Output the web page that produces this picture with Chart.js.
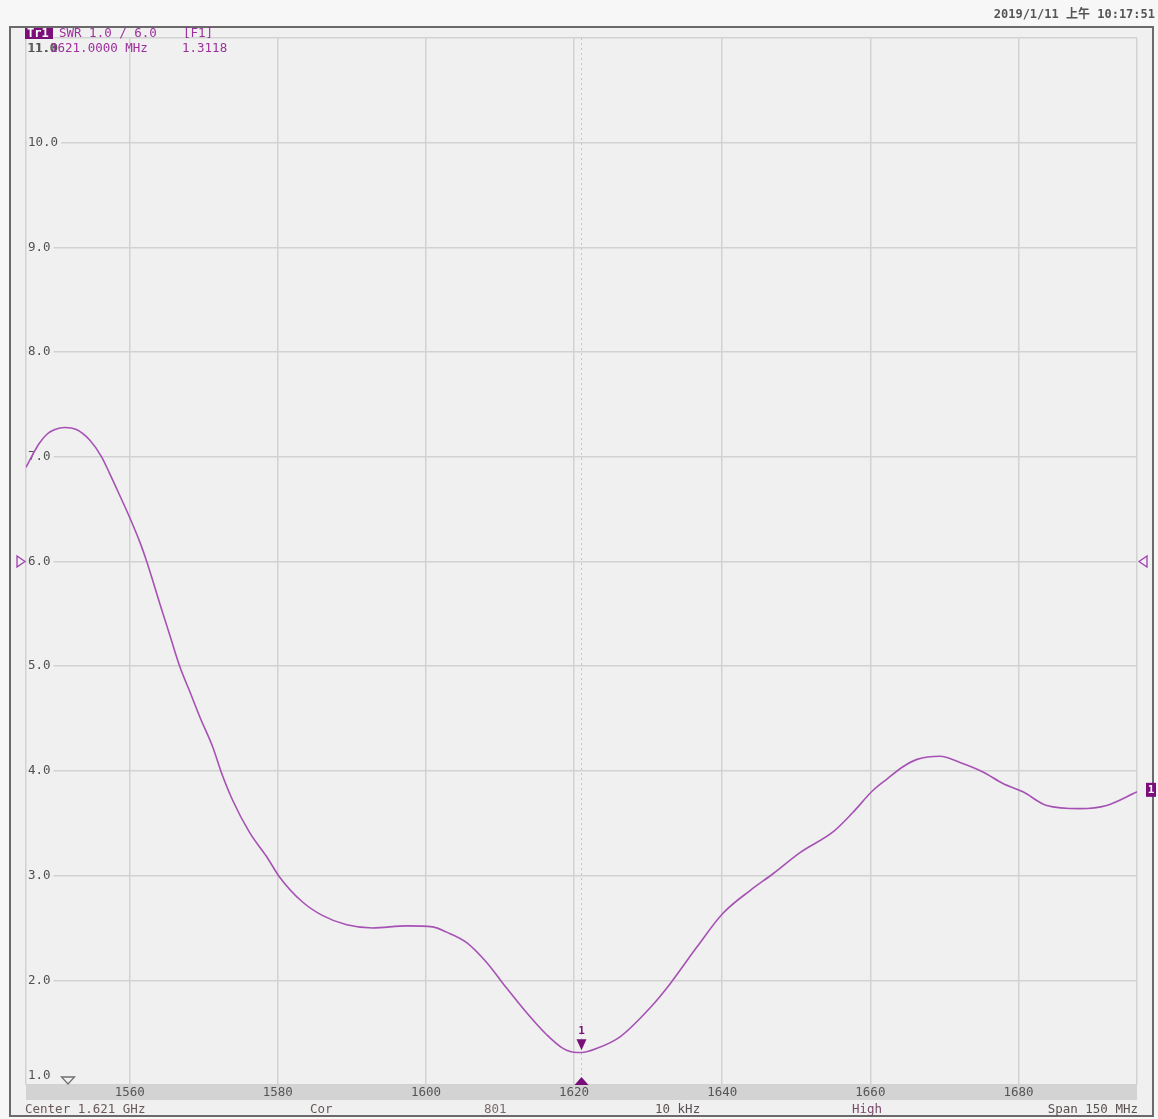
<!DOCTYPE html>
<html>
<head>
<meta charset="utf-8">
<script src="https://cdn.jsdelivr.net/npm/chart.js@4.4.1/dist/chart.umd.min.js"></script>
<style>
  html, body { margin: 0; padding: 0; background: #f7f7f7; }
  #wrap { position: relative; width: 1158px; height: 1119px; }
</style>
</head>
<body>
<div id="wrap"><canvas id="swrChart"></canvas></div>
<script>
// trace (MHz, SWR)
const freqMHz = [1546.0, 1546.9, 1547.8, 1548.9, 1549.9, 1551.2, 1552.8, 1554.6, 1556.2,
    1557.3, 1558.6, 1560.0, 1561.4, 1562.3, 1563.1, 1564.1, 1565.4, 1566.8, 1568.1,
    1569.5, 1571.2, 1572.4, 1573.9, 1576.2, 1578.5, 1580.2, 1583.3, 1586.0, 1589.3,
    1592.8, 1597.4, 1600.9, 1602.8, 1605.5, 1608.2, 1610.4, 1613.6, 1616.3, 1618.5,
    1620.4, 1621.0, 1623.1, 1626.2, 1630.3, 1633.0, 1636.6, 1640.1, 1643.8, 1646.9,
    1650.5, 1655.0, 1657.6, 1660.3, 1662.2, 1664.4, 1666.3, 1669.4, 1672.1, 1675.2,
    1677.9, 1680.6, 1683.8, 1688.3, 1691.9, 1696.0];
const swr = [6.90, 7.02, 7.13, 7.22, 7.26, 7.28, 7.26, 7.16, 7.00,
    6.84, 6.64, 6.42, 6.18, 6.00, 5.82, 5.59, 5.30, 4.99, 4.76,
    4.51, 4.23, 3.98, 3.72, 3.41, 3.18, 2.99, 2.75, 2.62, 2.53,
    2.50, 2.52, 2.51, 2.46, 2.36, 2.17, 1.97, 1.69, 1.48, 1.35,
    1.31, 1.31, 1.35, 1.46, 1.74, 1.97, 2.32, 2.64, 2.86, 3.02,
    3.22, 3.42, 3.60, 3.81, 3.92, 4.04, 4.11, 4.14, 4.08, 3.99,
    3.88, 3.80, 3.67, 3.64, 3.67, 3.80];

const xGrid = [1546, 1560, 1580, 1600, 1620, 1640, 1660, 1680, 1696];
const xTickLabels = [1560, 1580, 1600, 1620, 1640, 1660, 1680];
const yTickLabels = [1, 2, 3, 4, 5, 6, 7, 8, 9, 10, 11];

const markerFreq = 1621.0;
const markerValue = 1.3118;
const refValue = 6.0;

const MONO = '"DejaVu Sans Mono", "Liberation Mono", monospace';
const PURPLE = "#9c2f9c";
const DARKPURPLE = "#7a0f7a";

function tri(ctx, x, y, w, h, dir, fill, stroke) {
    ctx.beginPath();
    if (dir === "down") { ctx.moveTo(x - w / 2, y - h); ctx.lineTo(x + w / 2, y - h); ctx.lineTo(x, y); }
    if (dir === "up") { ctx.moveTo(x - w / 2, y); ctx.lineTo(x + w / 2, y); ctx.lineTo(x, y - h); }
    if (dir === "right") { ctx.moveTo(x - h, y - w / 2); ctx.lineTo(x - h, y + w / 2); ctx.lineTo(x, y); }
    if (dir === "left") { ctx.moveTo(x + h, y - w / 2); ctx.lineTo(x + h, y + w / 2); ctx.lineTo(x, y); }
    ctx.closePath();
    if (fill) { ctx.fillStyle = fill; ctx.fill(); }
    if (stroke) { ctx.strokeStyle = stroke; ctx.lineWidth = 1.3; ctx.stroke(); }
}

const vnaDecor = {
    id: "vnaDecor",
    beforeDraw(chart) {
        const ctx = chart.ctx;
        const a = chart.chartArea;
        ctx.save();
        ctx.fillStyle = "#f7f7f7";
        ctx.fillRect(0, 0, chart.width, chart.height);
        // instrument frame
        ctx.fillStyle = "#f0f0f0";
        ctx.fillRect(10, 27, 1143, 1089);
        ctx.strokeStyle = "#6a6a6a";
        ctx.lineWidth = 2;
        ctx.strokeRect(10, 27, 1143, 1089);
        // grey band with frequency labels
        ctx.fillStyle = "#d3d3d3";
        ctx.fillRect(a.left, a.bottom, a.right - a.left, 15);
        // timestamp
        ctx.font = "bold 12px " + MONO + ', "Noto Sans CJK SC"';
        ctx.fillStyle = "#555";
        ctx.textAlign = "right";
        ctx.textBaseline = "middle";
        ctx.fillText("2019/1/11 上午 10:17:51", 1155, 15);
        // bottom status row
        ctx.font = "12.5px " + MONO;
        ctx.textAlign = "left";
        ctx.fillStyle = "#6a5858";
        ctx.fillText("Center 1.621 GHz", 25, 1110);
        ctx.fillText("Cor", 310, 1110);
        ctx.fillStyle = "#7a6a6a";
        ctx.fillText("801", 484, 1110);
        ctx.fillStyle = "#5a5050";
        ctx.fillText("10 kHz", 655, 1110);
        ctx.fillStyle = "#7a4a6a";
        ctx.fillText("High", 852, 1110);
        ctx.fillStyle = "#5a5050";
        ctx.textAlign = "right";
        ctx.fillText("Span 150 MHz", 1138, 1110);
        ctx.restore();
    },
    beforeDatasetsDraw(chart) {
        const ctx = chart.ctx;
        const a = chart.chartArea;
        const xs = chart.scales.x, ys = chart.scales.y;
        ctx.save();
        // marker stimulus line
        const mx = xs.getPixelForValue(markerFreq);
        ctx.strokeStyle = "#c4c4c4";
        ctx.lineWidth = 1;
        ctx.setLineDash([2, 3]);
        ctx.beginPath();
        ctx.moveTo(mx, a.top);
        ctx.lineTo(mx, a.bottom);
        ctx.stroke();
        ctx.setLineDash([]);
        // y labels inside the grid
        ctx.font = "12.5px " + MONO;
        ctx.textAlign = "left";
        ctx.textBaseline = "middle";
        yTickLabels.forEach(v => {
            let y = ys.getPixelForValue(v);
            if (v === 11) y += 11;
            if (v === 1) y -= 9;
            const txt = v.toFixed(1);
            const w = ctx.measureText(txt).width;
            ctx.fillStyle = "#f0f0f0";
            ctx.fillRect(a.left + 1, y - 6, w + 4, 12);
            ctx.fillStyle = "#505050";
            ctx.fillText(txt, a.left + 2, y);
        });
        // x labels in the band
        ctx.textAlign = "center";
        ctx.fillStyle = "#555";
        xTickLabels.forEach(v => {
            ctx.fillText(String(v), xs.getPixelForValue(v), a.bottom + 8);
        });
        ctx.restore();
    },
    afterDatasetsDraw(chart) {
        const ctx = chart.ctx;
        const a = chart.chartArea;
        const xs = chart.scales.x, ys = chart.scales.y;
        ctx.save();
        const mx = xs.getPixelForValue(markerFreq);
        const my = ys.getPixelForValue(markerValue);
        // marker 1
        tri(ctx, mx, my - 2, 10, 11, "down", DARKPURPLE);
        ctx.font = "bold 11px " + MONO;
        ctx.fillStyle = DARKPURPLE;
        ctx.textAlign = "center";
        ctx.textBaseline = "middle";
        ctx.fillText("1", mx, my - 21);
        tri(ctx, mx, a.bottom, 14, 8, "up", DARKPURPLE);
        // reference level pointers
        const ry = ys.getPixelForValue(refValue);
        tri(ctx, a.left - 1, ry, 11, 8, "right", null, "#a040b0");
        tri(ctx, a.right + 2, ry, 11, 8, "left", null, "#a040b0");
        // trace end label
        const ey = ys.getPixelForValue(swr[swr.length - 1]) - 2;
        ctx.fillStyle = DARKPURPLE;
        ctx.fillRect(a.right + 9, ey - 7, 10, 14);
        ctx.fillStyle = "#fff";
        ctx.font = "bold 11px " + MONO;
        ctx.fillText("1", a.right + 14, ey);
        // bottom-left pointer
        tri(ctx, 68, 1084, 13, 7, "down", null, "#707070");
        // header
        ctx.textAlign = "left";
        ctx.fillStyle = DARKPURPLE;
        ctx.fillRect(25, 28, 28, 11);
        ctx.font = "bold 12px " + MONO;
        ctx.fillStyle = "#fff";
        ctx.fillText("Tr1", 27, 34);
        ctx.font = "12.5px " + MONO;
        ctx.fillStyle = PURPLE;
        ctx.fillText("SWR 1.0 / 6.0", 59, 34);
        ctx.fillText("[F1]", 183, 34);
        ctx.fillStyle = "#555";
        ctx.fillText("11.0", 27, 49);
        ctx.fillStyle = PURPLE;
        ctx.fillText("1621.0000 MHz", 50, 49);
        ctx.fillText("1.3118", 182, 49);
        ctx.restore();
    }
};

const ctx = document.getElementById("swrChart").getContext("2d");
new Chart(ctx, {
    type: "line",
    data: {
        datasets: [{
            data: freqMHz.map((f, i) => ({ x: f, y: swr[i] })),
            borderColor: "#a652b4",
            borderWidth: 1.6,
            pointRadius: 0,
            fill: false,
            cubicInterpolationMode: "monotone"
        }]
    },
    options: {
        responsive: true,
        maintainAspectRatio: false,
        animation: false,
        layout: { padding: { left: 26, right: 21, top: 38, bottom: 34 } },
        plugins: { legend: { display: false }, tooltip: { enabled: false } },
        scales: {
            x: {
                type: "linear",
                min: 1546,
                max: 1696,
                afterBuildTicks: axis => { axis.ticks = xGrid.map(v => ({ value: v })); },
                ticks: { display: false },
                grid: { color: "#d2d2d2", lineWidth: 1.5, drawTicks: false, tickLength: 0 },
                border: { display: false }
            },
            y: {
                min: 1,
                max: 11,
                afterBuildTicks: axis => { axis.ticks = yTickLabels.map(v => ({ value: v })); },
                ticks: { display: false },
                grid: { color: "#d2d2d2", lineWidth: 1.5, drawTicks: false, tickLength: 0 },
                border: { display: false }
            }
        }
    },
    plugins: [vnaDecor]
});
</script>
</body>
</html>
